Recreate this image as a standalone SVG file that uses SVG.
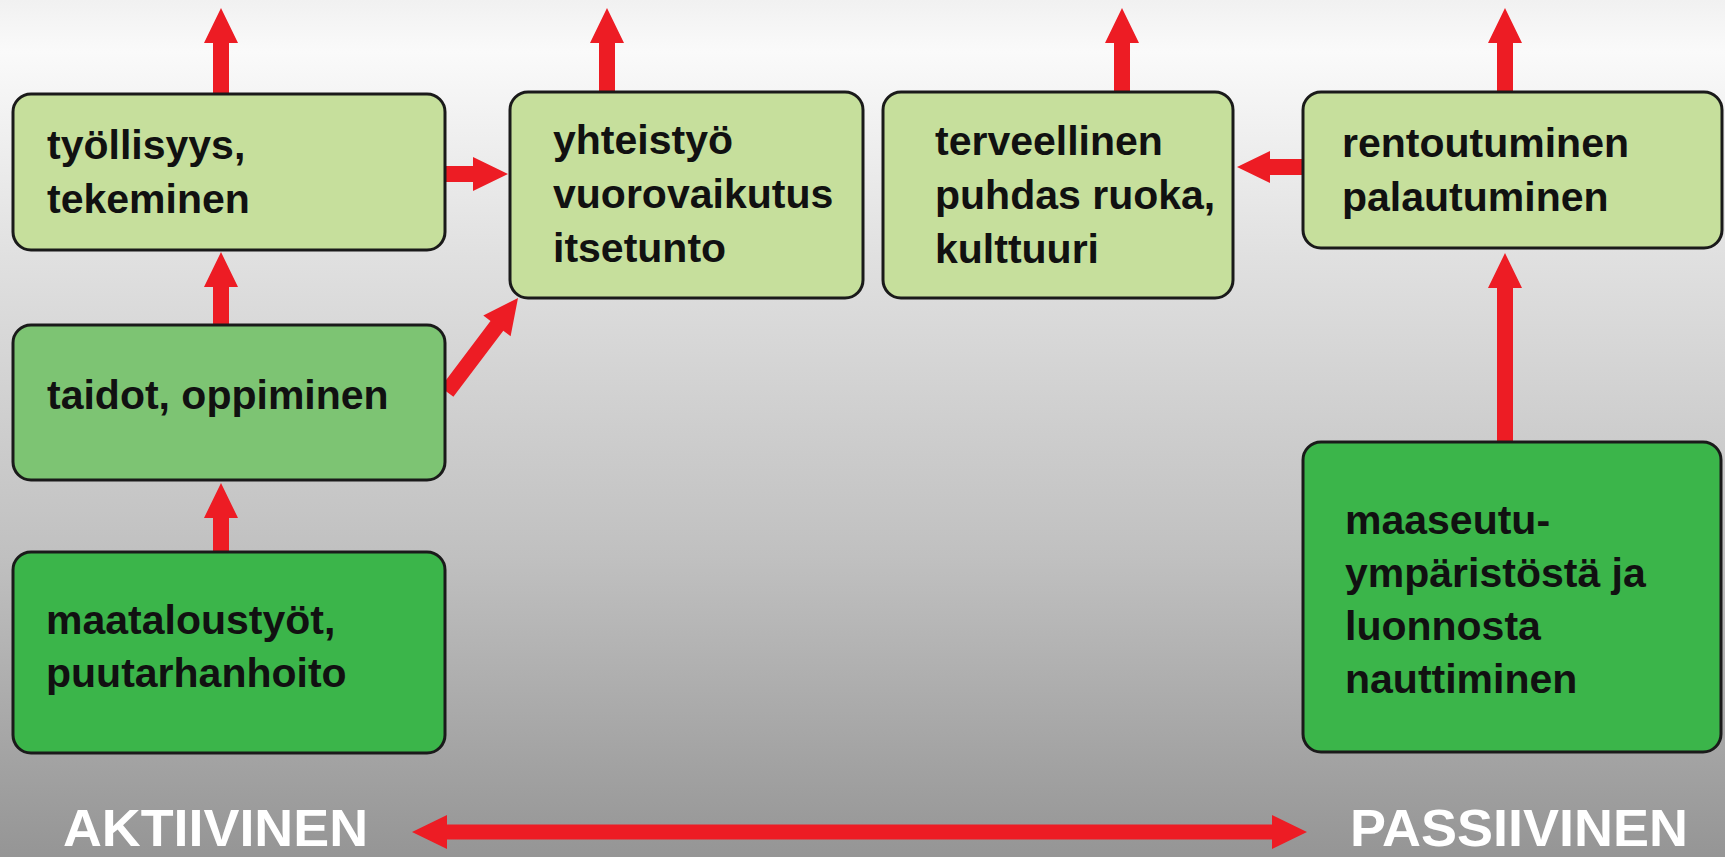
<svg xmlns="http://www.w3.org/2000/svg" width="1725" height="857" viewBox="0 0 1725 857">
<defs>
<linearGradient id="bg" x1="0" y1="0" x2="0" y2="1">
<stop offset="0" stop-color="#f1f1f1"/>
<stop offset="0.06" stop-color="#fafafa"/>
<stop offset="0.3" stop-color="#e0e0e0"/>
<stop offset="0.65" stop-color="#c0c0c0"/>
<stop offset="1" stop-color="#959595"/>
</linearGradient>
</defs>
<style>
.box{stroke:#1a1a1a;stroke-width:3}
.l1{fill:#c6df9c}
.l2{fill:#7dc473}
.l3{fill:#3bb54a}
.t{font-family:"Liberation Sans",Arial,sans-serif;font-weight:bold;font-size:41px;fill:#111}
.lab{font-family:"Liberation Sans",Arial,sans-serif;font-weight:bold;font-size:52px;fill:#ffffff}
.arr{fill:#ed1c24}
</style>
<rect x="0" y="0" width="1725" height="857" fill="url(#bg)"/>
<g id="connectors">
<polygon class="arr" points="213,96 213,43 204,43 221,8 238,43 229,43 229,96"/>
<polygon class="arr" points="599,94 599,43 590,43 607,8 624,43 615,43 615,94"/>
<polygon class="arr" points="1114,94 1114,43 1105,43 1122,8 1139,43 1130,43 1130,94"/>
<polygon class="arr" points="1497,94 1497,43 1488,43 1505,8 1522,43 1513,43 1513,94"/>
<polygon class="arr" points="213,327 213,287 204,287 221,252 238,287 229,287 229,327"/>
<polygon class="arr" points="213,555 213,518 204,518 221,483 238,518 229,518 229,555"/>
<polygon class="arr" points="1497,444 1497,288 1488,288 1505,253 1522,288 1513,288 1513,444"/>
<polygon class="arr" points="443,166 473,166 473,157 508,174 473,191 473,182 443,182"/>
<polygon class="arr" points="1305,159 1270,159 1270,151 1237,167 1270,183 1270,175 1305,175"/>
<polygon class="arr" points="440.6,387.2 490.5,321.1 483.3,315.6 518,298 510.6,336.2 503.3,330.7 453.4,396.8"/>
<polygon class="arr" points="412,832 447,815 447,824.5 1272,824.5 1272,815 1307,832 1272,849 1272,839.5 447,839.5 447,849"/>
</g>
<g id="n-tyollisyys">
<rect class="box l1" x="13" y="94" width="432" height="156" rx="18"/>
<text class="t" x="47" y="159">työllisyys,</text>
<text class="t" x="47" y="213">tekeminen</text>
</g>
<g id="n-yhteistyo">
<rect class="box l1" x="510" y="92" width="353" height="206" rx="18"/>
<text class="t" x="553" y="154">yhteistyö</text>
<text class="t" x="553" y="208">vuorovaikutus</text>
<text class="t" x="553" y="262">itsetunto</text>
</g>
<g id="n-terveellinen">
<rect class="box l1" x="883" y="92" width="350" height="206" rx="18"/>
<text class="t" x="935" y="155">terveellinen</text>
<text class="t" x="935" y="209">puhdas ruoka,</text>
<text class="t" x="935" y="263">kulttuuri</text>
</g>
<g id="n-rentoutuminen">
<rect class="box l1" x="1303" y="92" width="419" height="156" rx="18"/>
<text class="t" x="1342" y="157">rentoutuminen</text>
<text class="t" x="1342" y="211">palautuminen</text>
</g>
<g id="n-taidot">
<rect class="box l2" x="13" y="325" width="432" height="155" rx="18"/>
<text class="t" x="47" y="409">taidot, oppiminen</text>
</g>
<g id="n-maatalous">
<rect class="box l3" x="13" y="552" width="432" height="201" rx="18"/>
<text class="t" x="46" y="634">maataloustyöt,</text>
<text class="t" x="46" y="687">puutarhanhoito</text>
</g>
<g id="n-maaseutu">
<rect class="box l3" x="1303" y="442" width="418" height="310" rx="18"/>
<text class="t" x="1345" y="534">maaseutu-</text>
<text class="t" x="1345" y="587">ympäristöstä ja</text>
<text class="t" x="1345" y="640">luonnosta</text>
<text class="t" x="1345" y="693">nauttiminen</text>
</g>
<g id="labels">
<text class="lab" x="63" y="846" textLength="305" lengthAdjust="spacingAndGlyphs">AKTIIVINEN</text>
<text class="lab" x="1350" y="846" textLength="338" lengthAdjust="spacingAndGlyphs">PASSIIVINEN</text>
</g>
</svg>
